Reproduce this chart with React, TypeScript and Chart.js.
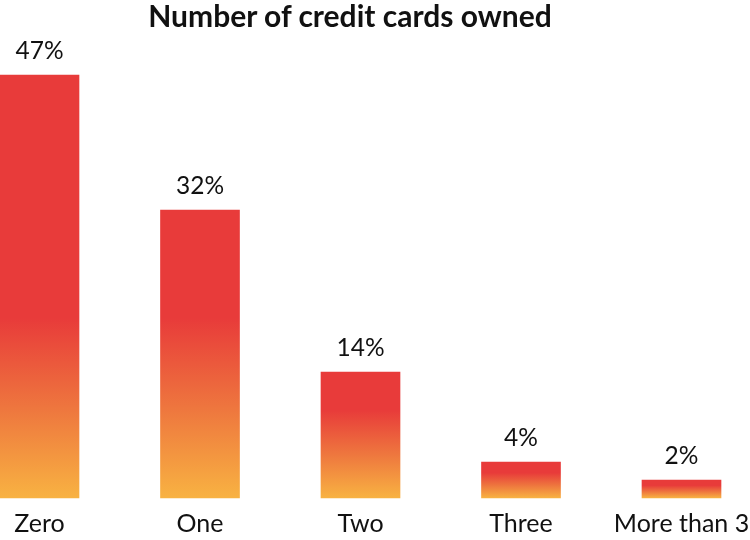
import { useEffect, useRef } from 'react';
import { Chart, registerables } from 'chart.js';

Chart.register(...registerables);

const categories = ['Zero', 'One', 'Two', 'Three', 'More than 3'];
const shares = [47, 32, 14, 4, 2];
const yMax = 50;

const RED = 'rgb(232, 59, 58)';
const ORANGE = 'rgb(248, 178, 66)';

// value labels above bars and category labels under the axis
const barLabels = {
  id: 'barLabels',
  afterDatasetsDraw(chart: any) {
    const { ctx, chartArea } = chart;
    const meta = chart.getDatasetMeta(0);
    const xScale = chart.scales.x;
    ctx.save();
    ctx.fillStyle = '#111';
    ctx.textAlign = 'center';
    ctx.textBaseline = 'alphabetic';
    ctx.font = '24.5px Lato';
    meta.data.forEach((bar: any, i: number) => {
      ctx.fillText(`${shares[i]}%`, bar.x, bar.y - 16);
    });
    ctx.font = '25px Lato';
    categories.forEach((label, i) => {
      ctx.fillText(label, xScale.getPixelForValue(i), chartArea.bottom + 34);
    });
    ctx.restore();
  },
};

const CreditCardsChart = () => {
  const chartRef = useRef<HTMLCanvasElement>(null);
  const chartInstance = useRef<Chart | null>(null);

  useEffect(() => {
    document.body.style.margin = '0';
    const canvas = chartRef.current;
    if (!canvas) return;
    const ctx = canvas.getContext('2d');
    if (!ctx) return;

    if (chartInstance.current) {
      chartInstance.current.destroy();
    }

    chartInstance.current = new Chart(ctx, {
      type: 'bar',
      data: {
        labels: categories,
        datasets: [{
          data: shares,
          clip: false as any,
          barThickness: 79,
          borderWidth: 0,
          backgroundColor: (c: any) => {
            const chart = c.chart;
            const y = chart.scales?.y;
            if (!y || !chart.chartArea || c.dataIndex === undefined) return RED;
            const top = y.getPixelForValue(shares[c.dataIndex]);
            const base = y.getPixelForValue(0);
            if (!isFinite(top) || !isFinite(base)) return RED;
            const h = base - top;
            const start = Math.max(top + 0.3 * h, base - 180);
            const g = chart.ctx.createLinearGradient(0, start, 0, base);
            g.addColorStop(0, RED);
            g.addColorStop(0.5, 'rgb(238, 118, 62)');
            g.addColorStop(1, ORANGE);
            return g;
          },
        }],
      },
      options: {
        animation: false,
        responsive: false,
        maintainAspectRatio: false,
        layout: {
          padding: { top: 48, left: 39.5, right: 68.5, bottom: 42 },
        },
        plugins: {
          legend: { display: false },
          tooltip: { enabled: false },
          title: { display: false },
        },
        scales: {
          y: {
            display: false,
            min: 0,
            max: yMax,
          },
          x: {
            offset: false,
            grid: { display: false, offset: false, drawTicks: false },
            border: { display: false },
            ticks: { display: false },
          },
        },
      },
      plugins: [barLabels],
    });

    return () => {
      if (chartInstance.current) {
        chartInstance.current.destroy();
        chartInstance.current = null;
      }
    };
  }, []);

  return (
    <div style={{ position: 'relative', width: 750, height: 540, background: '#fff' }}>
      <div
        style={{
          position: 'absolute',
          top: 0,
          left: 0,
          width: 700,
          textAlign: 'center',
          fontFamily: 'Lato',
          fontWeight: 700,
          fontSize: 30,
          lineHeight: '30px',
          color: '#111',
        }}
      >
        Number of credit cards owned
      </div>
      <canvas ref={chartRef} width={750} height={540} style={{ display: 'block' }}></canvas>
    </div>
  );
};

export default function App() {
  return <CreditCardsChart />;
}
